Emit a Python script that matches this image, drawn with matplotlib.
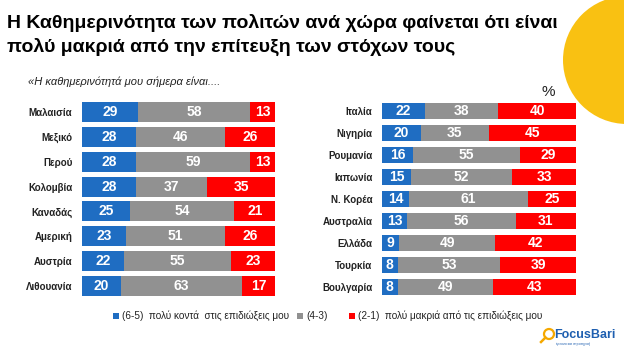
import matplotlib
matplotlib.use("Agg")
import numpy as np
from matplotlib import pyplot as plt
from matplotlib.patches import Circle, Rectangle

plt.rcParams['font.family'] = ['Liberation Sans', 'DejaVu Sans']

# left block
countries_l = ['Μαλαισία', 'Μεξικό', 'Περού', 'Κολομβία', 'Καναδάς',
               'Αμερική', 'Αυστρία', 'Λιθουανία']
close_l = [29, 28, 28, 28, 25, 23, 22, 20]
mid_l = [58, 46, 59, 37, 54, 51, 55, 63]
far_l = [13, 26, 13, 35, 21, 26, 23, 17]

# right block
countries_r = ['Ιταλία', 'Νιγηρία', 'Ρουμανία', 'Ιαπωνία', 'Ν. Κορέα',
               'Αυστραλία', 'Ελλάδα', 'Τουρκία', 'Βουλγαρία']
close_r = [22, 20, 16, 15, 14, 13, 9, 8, 8]
mid_r = [38, 35, 55, 52, 61, 56, 49, 53, 49]
far_r = [40, 45, 29, 33, 25, 31, 42, 39, 43]

legend_labels = ['(6-5)  πολύ κοντά  στις επιδιώξεις μου', '(4-3)',
                 '(2-1)  πολύ μακριά από τις επιδιώξεις μου']

BLUE = '#1F6DC2'
GRAY = '#919191'
RED = '#FF0000'
colors = [BLUE, GRAY, RED]

fig = plt.figure(figsize=(6.24, 3.49), dpi=100)

# yellow disc in the corner
deco = fig.add_axes([0, 0, 1, 1], zorder=0)
deco.set_xlim(0, 624)
deco.set_ylim(349, 0)
deco.axis('off')
deco.add_patch(Circle((627, 60), 64, color='#F9C112', lw=0))


def draw_block(rect, names, parts, height):
    ax = fig.add_axes(rect, zorder=2)
    y = np.arange(len(names))
    left = np.zeros(len(names))
    for vals, col in zip(parts, colors):
        vals = np.array(vals)
        ax.barh(y, vals, left=left, color=col, height=height, lw=0)
        for yi, l, v in zip(y, left, vals):
            ax.text(l + v / 2, yi, str(v), ha='center', va='center',
                    color='white', fontsize=10, fontweight='bold')
        left = left + vals
    ax.set_xlim(0, 100)
    ax.set_ylim(len(names) - 0.5, -0.5)
    ax.set_yticks(y)
    ax.set_yticklabels(names, fontsize=7, fontweight='bold', color='#222222')
    ax.tick_params(axis='y', length=0, pad=7)
    ax.set_xticks([])
    for s in ax.spines.values():
        s.set_visible(False)
    ax.patch.set_alpha(0)
    return ax


draw_block([0.1314, 0.1448, 0.3093, 0.5700], countries_l,
           [close_l, mid_l, far_l], 0.8)
axr = draw_block([0.6122, 0.1461, 0.3109, 0.5673], countries_r,
                 [close_r, mid_r, far_r], 0.77)

fig.text(0.878, 0.735, '%', fontsize=11, ha='center', va='center', color='#222222')

# title and question
fig.text(0.011, 0.933, 'Η Καθημερινότητα των πολιτών ανά χώρα φαίνεται ότι είναι',
         fontsize=14, fontweight='bold', ha='left', va='center')
fig.text(0.011, 0.866, 'πολύ μακριά από την επίτευξη των στόχων τους',
         fontsize=14, fontweight='bold', ha='left', va='center')
fig.text(0.045, 0.765, '«Η καθημερινότητά μου σήμερα είναι....',
         fontsize=8, style='italic', ha='left', va='center', color='#222222')

# legend row
for x_sq, x_txt, col, lab in [(116, 122, BLUE, legend_labels[0]),
                              (300, 306, GRAY, legend_labels[1]),
                              (352, 358, RED, legend_labels[2])]:
    deco.add_patch(Rectangle((x_sq - 3, 313), 6, 6, color=col, lw=0))
    deco.text(x_txt, 316, lab, fontsize=7.2, ha='left', va='center',
              color='#222222')

# logo
deco.add_patch(Circle((549, 334), 5, fill=False, ec='#F5A800', lw=1.6))
deco.plot([545.5, 541], [337.5, 342], color='#F5A800', lw=1.8)
deco.text(554, 335, 'FocusBari', fontsize=9, fontweight='bold',
          color='#1E5FB0', ha='left', va='center')
deco.text(556, 343.5, 'έρευνα και στρατηγική', fontsize=2.5,
          color='#1E5FB0', ha='left', va='center')

fig.savefig('out.png', dpi=100)
